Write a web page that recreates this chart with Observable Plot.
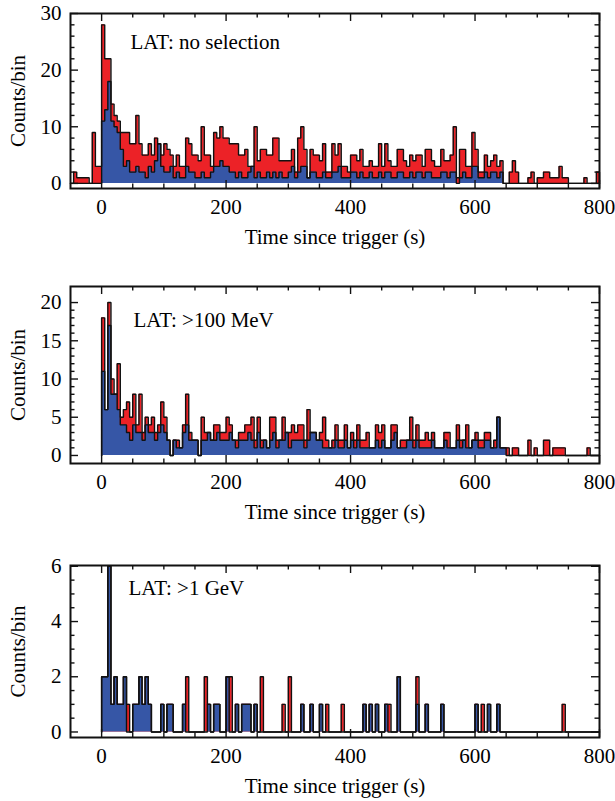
<!DOCTYPE html>
<html><head><meta charset="utf-8">
<script src="https://cdn.jsdelivr.net/npm/d3@7"></script>
<script src="https://cdn.jsdelivr.net/npm/@observablehq/plot@0.6"></script>
<style>
body{margin:0;background:#fff;}
#chart{position:relative;width:615px;height:801px;background:#fff;}
#chart .panel{position:absolute;left:0;}
</style></head><body><div id="chart"></div>
<script>
// ---------- data (5 s bins) ----------
const binWidth = 5;
const xMajorTicks = [0, 200, 400, 600, 800];
const xMinorTicks = [50, 100, 150, 250, 300, 350, 450, 500, 550, 650, 700, 750];
const xTitle = "Time since trigger (s)";
const yTitle = "Counts/bin";

// Panel 1: LAT, no selection (bins start at -50 s)
const noSelStart = -50;
const noSelTotal = [
  0,2,1,1,1,1,0,9,3,3,
  28,22,22,14,12,11,9,9,9,7,
  7,12,7,5,5,7,5,8,7,5,
  7,6,5,3,5,3,3,8,7,5,
  5,4,10,5,5,3,9,8,10,8,
  8,7,7,7,5,5,6,3,3,10,
  4,6,6,5,5,8,8,4,4,4,
  4,6,2,8,10,6,1,6,5,5,
  4,7,2,2,7,5,7,3,3,2,
  5,5,4,6,3,3,4,3,3,7,
  3,7,4,3,3,6,6,4,3,5,
  4,5,5,3,6,6,4,3,3,6,
  4,4,5,10,1,6,6,3,3,9,
  6,2,2,5,3,4,5,3,4,0,
  0,2,4,2,0,0,0,1,2,0,
  1,1,2,2,1,1,1,3,1,1,
  0,0,0,0,0,1,0,0,0,2
];
const noSelBlue = [
  0,0,0,0,0,0,0,0,0,0,
  11,13,18,11,10,9,6,3,4,2,
  2,3,2,2,1,3,2,4,7,3,
  2,2,3,1,2,1,1,3,2,2,
  1,1,2,1,1,2,3,3,4,3,
  3,2,2,1,2,1,1,2,3,1,
  2,1,1,2,1,2,1,2,1,1,
  2,3,1,2,3,3,1,2,2,1,
  1,2,1,1,2,2,3,1,1,1,
  2,2,1,2,1,1,2,1,1,2,
  1,2,2,1,1,2,2,1,1,2,
  1,2,2,1,2,2,1,1,1,2,
  2,1,2,2,0,1,2,1,1,3,
  3,1,1,2,1,2,2,1,2,0,
  0,0,0,0,0,0,0,0,0,0,
  0,0,0,0,0,0,0,0,0,0,
  0,0,0,0,0,0,0,0,0,0
];

// Panel 2: LAT > 100 MeV (bins start at 0 s)
const mevStart = 0;
const mevTotal = [
  18,6,20,10,8,12,5,6,7,5,
  8,4,8,3,5,4,5,3,4,7,
  5,2,0,2,2,1,4,8,3,2,
  2,0,5,3,3,2,4,4,3,3,
  5,4,2,2,3,3,4,4,5,2,
  5,2,2,1,5,5,2,2,5,3,
  3,4,3,4,4,2,6,3,3,2,
  3,5,2,1,2,4,2,2,4,1,
  3,2,4,2,2,3,1,1,4,3,
  4,1,1,4,4,1,2,2,2,5,
  2,4,2,2,3,2,3,1,1,1,
  3,3,1,1,4,2,2,4,1,2,
  3,2,2,3,3,1,2,5,1,1,
  1,0,1,1,0,0,0,2,0,1,
  0,0,2,2,0,1,1,1,1,0,
  0,0,0,0,0,0,1,0,0,0
];
const mevBlue = [
  11,6,17,8,8,6,4,4,3,2,
  4,3,3,2,4,3,3,2,3,4,
  3,2,0,2,1,1,3,4,2,2,
  2,0,2,2,3,2,2,3,2,2,
  2,3,2,1,2,2,2,3,2,1,
  3,1,2,1,2,3,1,2,2,3,
  1,2,2,2,2,1,2,3,3,2,
  2,1,1,1,1,2,1,1,2,1,
  2,1,2,1,1,1,1,1,2,1,
  2,1,1,2,3,1,1,1,2,2,
  1,2,1,1,1,1,2,1,1,1,
  2,1,1,1,2,1,2,1,1,2,
  2,1,1,2,2,1,1,5,1,1,
  0,0,0,0,0,0,0,0,0,0,
  0,0,0,0,0,0,0,0,0,0,
  0,0,0,0,0,0,0,0,0,0
];

// Panel 3: LAT > 1 GeV (bins start at 0 s)
const gevStart = 0;
const gevTotal = [
  2,2,6,1,2,1,1,2,1,0,
  1,1,2,1,2,1,0,0,0,1,
  0,1,1,0,0,0,1,2,0,0,
  0,0,0,2,1,0,1,1,0,0,
  2,2,0,1,0,1,1,1,0,1,
  0,2,0,0,0,0,0,0,1,0,
  2,0,0,0,1,0,0,1,0,0,
  1,0,1,0,0,0,0,1,0,0,
  0,0,0,0,1,0,1,0,1,0,
  0,1,1,0,0,2,0,0,0,0,
  0,2,0,0,1,0,0,0,0,1,
  0,0,0,0,0,0,0,0,0,0,
  1,0,1,0,1,0,0,1,0,0,
  0,0,0,0,0,0,0,0,0,0,
  0,0,0,0,0,0,0,0,1,0,
  0,0,0,0,0,0,0,0,0,0
];
const gevBlue = [
  2,2,6,1,2,1,1,2,0,0,
  1,1,2,1,2,1,0,0,0,1,
  0,1,1,0,0,0,1,0,0,0,
  0,0,0,0,1,0,1,1,0,0,
  2,0,0,1,0,1,1,1,0,1,
  0,0,0,0,0,0,0,0,0,0,
  0,0,0,0,1,0,0,1,0,0,
  1,0,0,0,0,0,0,0,0,0,
  0,0,0,0,1,0,1,0,1,0,
  0,1,0,0,0,2,0,0,0,0,
  0,1,0,0,1,0,0,0,0,1,
  0,0,0,0,0,0,0,0,0,0,
  1,0,0,0,1,0,0,1,0,0,
  0,0,0,0,0,0,0,0,0,0,
  0,0,0,0,0,0,0,0,0,0,
  0,0,0,0,0,0,0,0,0,0
];

const panelLabels = ["LAT: no selection", "LAT: >100 MeV", "LAT: >1 GeV"];

// ---------- drawing ----------
const RED = "#ec2227";
const BLUE = "#3656a6";
const INK = "#111111";
const FONT = "'Liberation Serif', 'DejaVu Serif', serif";
const FS = 21;

function ticksEvery(lo, hi, step, skip) {
  const out = [];
  for (let v = lo; v <= hi + 1e-9; v += step) {
    const r = Math.round(v * 100) / 100;
    if (!skip.includes(r)) out.push(r);
  }
  return out;
}

function panel(cfg) {
  const {start, total, blue, label, labelDx, labelDy, yDomain, yMajor, yMinorStep, height, top} = cfg;
  const rows = [{t: start, total: 0, blue: 0}];
  total.forEach((v, i) => rows.push({t: start + i * binWidth, total: v, blue: blue[i]}));
  rows.push({t: start + total.length * binWidth, total: 0, blue: 0});
  const mt = 13, mb = 62, ml = 70, mr = 16;
  const ph = height - mt - mb, pw = 615 - ml - mr;
  const majL = 8, minL = 4.5;
  const yMinor = ticksEvery(0, yMajor[yMajor.length - 1], yMinorStep, yMajor);
  const tickStyle = {stroke: INK, strokeWidth: 1.4};
  const svg = Plot.plot({
    width: 615, height,
    marginTop: mt, marginBottom: mb, marginLeft: ml, marginRight: mr,
    style: {fontFamily: FONT, fontSize: FS + "px", color: "#000", background: "white", overflow: "visible"},
    x: {domain: [-50, 800]},
    y: {domain: yDomain},
    marks: [
      Plot.areaY(rows, {x: "t", y: "total", curve: "step-after", fill: RED}),
      Plot.areaY(rows, {x: "t", y: "blue", curve: "step-after", fill: BLUE}),
      Plot.lineY(rows, {x: "t", y: "blue", curve: "step-after", stroke: INK, strokeWidth: 1.4, strokeLinejoin: "miter"}),
      Plot.lineY(rows, {x: "t", y: "total", curve: "step-after", stroke: INK, strokeWidth: 1.4, strokeLinejoin: "miter"}),
      Plot.tickX(xMajorTicks, {x: d => d, insetTop: ph - majL, ...tickStyle}),
      Plot.tickX(xMajorTicks, {x: d => d, insetBottom: ph - majL, ...tickStyle}),
      Plot.tickX(xMinorTicks, {x: d => d, insetTop: ph - minL, ...tickStyle}),
      Plot.tickX(xMinorTicks, {x: d => d, insetBottom: ph - minL, ...tickStyle}),
      Plot.tickY(yMajor, {y: d => d, insetRight: pw - majL, ...tickStyle}),
      Plot.tickY(yMajor, {y: d => d, insetLeft: pw - majL, ...tickStyle}),
      Plot.tickY(yMinor, {y: d => d, insetRight: pw - minL, ...tickStyle}),
      Plot.tickY(yMinor, {y: d => d, insetLeft: pw - minL, ...tickStyle}),
      Plot.axisX({ticks: xMajorTicks, tickSize: 0, tickPadding: 11, label: null, fontSize: FS, tickFormat: d3.format("d")}),
      Plot.axisY({ticks: yMajor, tickSize: 0, tickPadding: 9, label: null, fontSize: FS, tickFormat: d3.format("d")}),
      Plot.frame({stroke: INK, strokeWidth: 2}),
      Plot.text([label], {text: d => d, frameAnchor: "top-left", dx: labelDx, dy: labelDy, textAnchor: "start", lineAnchor: "middle", fontSize: FS, fill: "#000"}),
      Plot.text([xTitle], {text: d => d, frameAnchor: "bottom", dy: 49, textAnchor: "middle", lineAnchor: "middle", fontSize: FS, fill: "#000"}),
      Plot.text([yTitle], {text: d => d, frameAnchor: "left", dx: -52, rotate: -90, textAnchor: "middle", lineAnchor: "middle", fontSize: FS, fill: "#000"})
    ]
  });
  const wrap = document.createElement("div");
  wrap.className = "panel";
  wrap.style.top = top + "px";
  wrap.appendChild(svg);
  document.getElementById("chart").appendChild(wrap);
}

panel({start: noSelStart, total: noSelTotal, blue: noSelBlue, label: panelLabels[0],
  labelDx: 60, labelDy: 29, yDomain: [-0.9, 30], yMajor: [0, 10, 20, 30], yMinorStep: 2,
  height: 250, top: 0});
panel({start: mevStart, total: mevTotal, blue: mevBlue, label: panelLabels[1],
  labelDx: 63, labelDy: 34, yDomain: [-1.05, 22.1], yMajor: [0, 5, 10, 15, 20], yMinorStep: 1,
  height: 252, top: 273});
panel({start: gevStart, total: gevTotal, blue: gevBlue, label: panelLabels[2],
  labelDx: 58, labelDy: 23, yDomain: [-0.2, 6.03], yMajor: [0, 2, 4, 6], yMinorStep: 0.5,
  height: 247, top: 552});
</script></body></html>
